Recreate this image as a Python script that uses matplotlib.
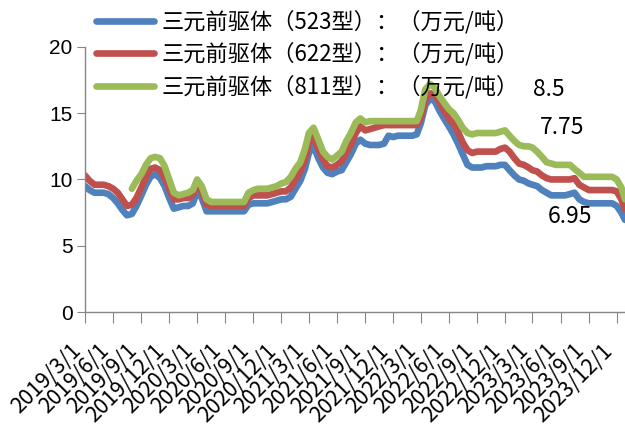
import numpy as np
import pandas as pd
import matplotlib
matplotlib.use("Agg")
import matplotlib.pyplot as plt
import matplotlib.dates as mdates

plt.rcParams['font.family'] = ['Noto Sans CJK SC', 'DejaVu Sans']

# semi-monthly price points (1st and 16th), last quote on 2023/12/28
months = pd.date_range('2019-03-01', '2023-12-01', freq='MS')
dates = []
for d in months:
    dates += [d, d + pd.Timedelta(days=15)]
dates.append(pd.Timestamp('2023-12-28'))

p523 = [9.5, 9.2, 9.0, 9.0, 9.0, 8.9, 8.6, 8.2, 7.7, 7.3,
        7.4, 8.0, 8.8, 9.6, 10.2, 10.4, 10.1, 9.5, 8.6, 7.8,
        7.9, 8.0, 8.0, 8.2, 9.1, 8.6, 7.6, 7.6, 7.6, 7.6,
        7.6, 7.6, 7.6, 7.6, 7.6, 8.1, 8.2, 8.2, 8.2, 8.2,
        8.3, 8.4, 8.5, 8.5, 8.7, 9.3, 9.9, 10.8, 12.0, 12.5,
        11.6, 10.9, 10.5, 10.4, 10.6, 10.7, 11.3, 11.9, 12.7, 13.0,
        12.7, 12.6, 12.6, 12.6, 12.7, 13.3, 13.2, 13.3, 13.3, 13.3,
        13.3, 13.4, 14.2, 15.6, 16.1, 15.9, 15.2, 14.6, 14.0, 13.4,
        12.7, 11.9, 11.1, 10.9, 10.9, 10.9, 11.0, 11.0, 11.0, 11.1,
        11.1, 10.7, 10.3, 10.0, 9.9, 9.7, 9.6, 9.5, 9.2, 9.0,
        8.8, 8.8, 8.8, 8.8, 8.9, 9.0, 8.5, 8.3, 8.2, 8.2,
        8.2, 8.2, 8.2, 8.2, 8.0, 7.5, 6.95]

p622 = [10.3, 9.9, 9.6, 9.6, 9.6, 9.5, 9.3, 9.0, 8.5, 8.0,
        8.1, 8.6, 9.4, 10.2, 10.8, 10.9, 10.7, 10.1, 9.3, 8.5,
        8.5, 8.6, 8.6, 8.8, 9.7, 9.1, 8.1, 8.0, 8.0, 8.0,
        8.0, 8.0, 8.0, 8.0, 8.0, 8.6, 8.8, 8.8, 8.8, 8.8,
        8.9, 9.0, 9.1, 9.1, 9.4, 10.0, 10.6, 11.5, 12.7, 13.3,
        12.3, 11.5, 11.0, 10.9, 11.1, 11.4, 12.0, 12.6, 13.5, 14.0,
        13.7, 13.8, 13.9, 14.0, 14.1, 14.1, 14.1, 14.1, 14.1, 14.1,
        14.1, 14.1, 14.6, 16.0, 16.5, 16.4, 15.8, 15.2, 14.6, 14.2,
        13.6, 12.8, 12.2, 12.0, 12.1, 12.1, 12.1, 12.1, 12.1, 12.3,
        12.4, 12.1, 11.6, 11.2, 11.1, 10.9, 10.7, 10.6, 10.3, 10.1,
        10.0, 10.0, 10.0, 10.0, 10.0, 10.1, 9.6, 9.4, 9.2, 9.2,
        9.2, 9.2, 9.2, 9.2, 9.1, 8.5, 7.75]

nan = np.nan
p811 = [nan, nan, nan, nan, nan, nan, nan, nan, nan, nan,
        9.3, 9.9, 10.4, 11.1, 11.6, 11.7, 11.6, 11.0, 10.0, 9.0,
        8.8, 8.9, 9.0, 9.2, 10.0, 9.5, 8.5, 8.3, 8.3, 8.3,
        8.3, 8.3, 8.3, 8.3, 8.3, 9.0, 9.2, 9.3, 9.3, 9.3,
        9.4, 9.5, 9.7, 9.8, 10.2, 10.8, 11.3, 12.3, 13.5, 13.9,
        13.0, 12.1, 11.7, 11.5, 11.8, 12.1, 12.9, 13.5, 14.3, 14.6,
        14.3, 14.4, 14.4, 14.4, 14.4, 14.4, 14.4, 14.4, 14.4, 14.4,
        14.4, 14.4, 15.2, 16.8, 17.2, 16.9, 16.3, 15.8, 15.3, 15.0,
        14.5, 13.9, 13.5, 13.4, 13.5, 13.5, 13.5, 13.5, 13.5, 13.6,
        13.7, 13.3, 12.9, 12.6, 12.5, 12.5, 12.4, 12.1, 11.7, 11.3,
        11.2, 11.1, 11.1, 11.1, 11.1, 10.8, 10.5, 10.2, 10.2, 10.2,
        10.2, 10.2, 10.2, 10.2, 10.0, 9.4, 8.5]

names = ['三元前驱体（523型）：（万元/吨）',
         '三元前驱体（622型）：（万元/吨）',
         '三元前驱体（811型）：（万元/吨）']
colors = ['#4F81BD', '#C0504D', '#9BBB59']

tick_dates = pd.date_range('2019-03-01', '2023-12-01', freq='3MS')
tick_labels = [f'{d.year}/{d.month}/{d.day}' for d in tick_dates]

fig = plt.figure(figsize=(6.25, 4.34), dpi=100)
ax = fig.add_axes([0.136, 0.281, 0.864, 0.611])

lines = []
for vals, name, c in zip([p523, p622, p811], names, colors):
    ln, = ax.plot(dates, vals, color=c, lw=4.8, label=name,
                  solid_joinstyle='round', solid_capstyle='round')
    lines.append(ln)

ax.set_ylim(0, 20)
ax.set_yticks([0, 5, 10, 15, 20])
ax.set_xlim(dates[0], dates[-1])
ax.set_xticks(tick_dates)
ax.set_xticklabels(tick_labels, rotation=45, ha='right', va='top', fontsize=15.5)
for t in ax.get_yticklabels():
    t.set_fontfamily('Liberation Sans')
    t.set_fontsize(15)

for s in ['top', 'right']:
    ax.spines[s].set_visible(False)
for s in ['left', 'bottom']:
    ax.spines[s].set_color('#868686')
    ax.spines[s].set_linewidth(1)
ax.tick_params(axis='y', length=6, color='#868686', pad=3)
ax.tick_params(axis='x', length=8, color='#868686', pad=12)

# end-of-period values
ax.annotate('8.5', xy=(dates[-1], p811[-1]), xytext=(-92, 110),
            textcoords='offset pixels', fontsize=16.5, va='center', ha='left')
ax.annotate('7.75', xy=(dates[-1], p622[-1]), xytext=(-85, 82),
            textcoords='offset pixels', fontsize=16.5, va='center', ha='left')
ax.annotate('6.95', xy=(dates[-1], p523[-1]), xytext=(-77, 3),
            textcoords='offset pixels', fontsize=16.5, va='center', ha='left')

fig.legend(handles=lines, loc='upper left', bbox_to_anchor=(0.154, 0.977),
           frameon=False, fontsize=16, borderpad=0, borderaxespad=0,
           handlelength=2.6, handletextpad=0.35, labelspacing=0.4)

fig.savefig('out.png', dpi=100)
